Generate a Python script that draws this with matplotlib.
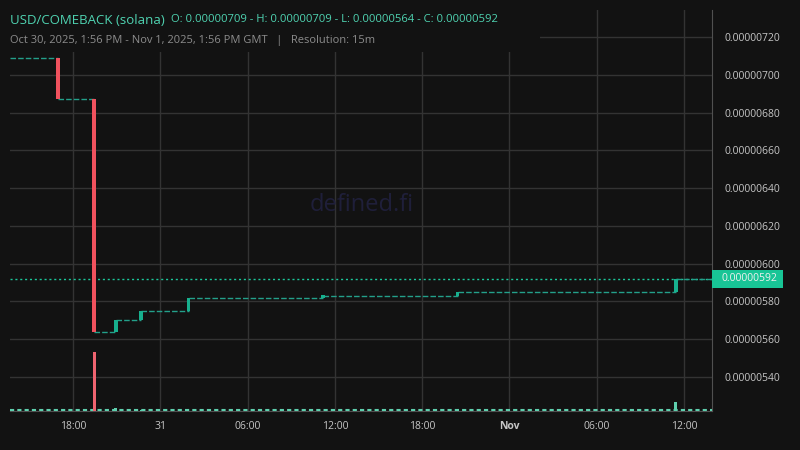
import matplotlib
matplotlib.use("Agg")
import matplotlib.pyplot as plt
import matplotlib.transforms as mtransforms
from matplotlib.patches import Rectangle
import pandas as pd

# precios en unidades de 1e-8
inicio = "2025-10-30 13:39"
fin = "2025-11-01 13:56"
precio_inicial = 709
velas_tiempo = ["2025-10-30 16:56", "2025-10-30 19:26", "2025-10-30 20:56", "2025-10-30 22:41",
                "2025-10-31 01:56", "2025-10-31 11:11", "2025-10-31 20:26", "2025-11-01 11:26"]
velas_open = [709, 687, 564, 570, 575, 582, 583, 585]
velas_close = [687, 564, 570, 575, 582, 583, 585, 592]

# volumen relativo (solo las barras visibles)
vol_tiempo = ["2025-10-30 19:26", "2025-10-30 20:56", "2025-10-30 22:41",
              "2025-10-31 20:26", "2025-11-01 11:26"]
vol_valor = [59, 3, 1.5, 2, 9]
vol_sube = [False, True, True, True, True]

ticks_y = [540, 560, 580, 600, 620, 640, 660, 680, 700, 720]
ticks_x = ["2025-10-30 18:00", "2025-10-31 00:00", "2025-10-31 06:00", "2025-10-31 12:00",
           "2025-10-31 18:00", "2025-11-01 00:00", "2025-11-01 06:00", "2025-11-01 12:00"]
ticks_x_labels = ["18:00", "31", "06:00", "12:00", "18:00", "Nov", "06:00", "12:00"]

fondo = "#121212"
verde = "#17b08e"
rojo = "#f0525e"
linea = "#23a08a"
grilla = "#333333"
texto = "#c6c6c6"
escala = 1e-8
min15 = 15 / 1440  # 15 minutos en dias

plt.rcParams['font.family'] = ['Open Sans', 'DejaVu Sans']

fig = plt.figure(figsize=(8, 4.5), dpi=100, facecolor=fondo)
ax = fig.add_axes([10 / 800, 39 / 450, 702 / 800, 401 / 450])
ax.set_facecolor(fondo)

t_velas = pd.to_datetime(velas_tiempo)
t_ini = pd.Timestamp(inicio)
t_fin = pd.Timestamp(fin)

# tramos planos entre velas
xmin = [t_ini] + list(t_velas)
xmax = list(t_velas) + [t_fin]
niveles = [precio_inicial] + velas_close
for a, b, y in zip(xmin, xmax, niveles):
    ax.plot([a, b], [y * escala, y * escala], color=linea, lw=1.0,
            dashes=(4, 1.5), zorder=3)

# velas
for t, o, c in zip(t_velas, velas_open, velas_close):
    col = verde if c >= o else rojo
    bajo = min(o, c) * escala
    alto = max(abs(c - o), 1.2) * escala
    ax.bar(t, alto, width=min15 * 1.05, bottom=bajo, color=col, lw=0, zorder=4)

# linea de precio actual
ax.axhline(velas_close[-1] * escala, color="#1cc79a", lw=1.0, ls=(0, (1.5, 2)), zorder=2)

ax.set_xlim(t_ini, t_fin)
ax.set_ylim(522.0 * escala, 734.3 * escala)

ax.set_xticks(pd.to_datetime(ticks_x))
ax.set_xticklabels(ticks_x_labels)
for lab in ax.get_xticklabels():
    if lab.get_text() == "Nov":
        lab.set_fontweight("bold")
        lab.set_color("#e6e6e6")
ax.grid(True, color=grilla, lw=1.0)
ax.set_axisbelow(True)

# volumen
axv = ax.twinx()
axv.set_ylim(0, 401)
axv.axis("off")
t_vol = pd.to_datetime(vol_tiempo)
for t, v, s in zip(t_vol, vol_valor, vol_sube):
    axv.bar(t, v, width=min15 * 0.8, color="#5fcfae" if s else "#ee6470", lw=0, zorder=3)
axv.plot([t_ini, t_fin], [1, 1], color="#5fcfae", lw=1.5, dashes=(2, 1.5), zorder=2)

# eje de precios a la derecha
ax.set_yticks([v * escala for v in ticks_y])
ax.set_yticklabels([f"{v * escala:.8f}" for v in ticks_y])
ax.yaxis.set_ticks_position("right")
ax.yaxis.set_label_position("right")
ax.tick_params(axis="both", length=0, colors=texto, labelsize=7.5)
ax.tick_params(axis="y", pad=9, labelleft=False, labelright=True)
ax.tick_params(axis="x", pad=7)
for s in ["top", "left"]:
    ax.spines[s].set_visible(False)
ax.spines["right"].set_color("#505050")
ax.spines["bottom"].set_color("#505050")

# etiqueta del precio
trans = mtransforms.blended_transform_factory(ax.transAxes, ax.transData)
ult = velas_close[-1]
ax.add_patch(Rectangle((1.0, (ult - 4.7) * escala), 71 / 702, 9.4 * escala, transform=trans,
                       fc="#18c596", ec="none", clip_on=False, zorder=6))
ax.text(1.0 + 10 / 702, ult * escala, f"{ult * escala:.8f}",
        transform=trans, ha="left", va="center", fontsize=7.5, color="#f0f0f0",
        clip_on=False, zorder=7)

# marca de agua
ax.text(0.501, 0.514, "defined.fi", transform=ax.transAxes, ha="center", va="center",
        fontsize=17, color="#1f1f3a", zorder=1)

# cabecera
fig.add_artist(Rectangle((0, 1 - 52 / 450), 540 / 800, 52 / 450, transform=fig.transFigure,
                         fc=fondo, ec="none", zorder=5))
fig.text(10 / 800, 1 - 20 / 450, "USD/COMEBACK (solana)", color="#4fd3b1",
         fontsize=9.5, va="center", ha="left", zorder=6)
fig.text(171 / 800, 1 - 20 / 450, "O: 0.00000709 - H: 0.00000709 - L: 0.00000564 - C: 0.00000592",
         color="#4fd3b1", fontsize=8.1, va="center", ha="left", zorder=6)
fig.text(10 / 800, 1 - 41 / 450,
         "Oct 30, 2025, 1:56 PM - Nov 1, 2025, 1:56 PM GMT   |   Resolution: 15m",
         color="#8c8c8c", fontsize=8, va="center", ha="left", zorder=6)

fig.savefig("out.png", dpi=100, facecolor=fondo)
